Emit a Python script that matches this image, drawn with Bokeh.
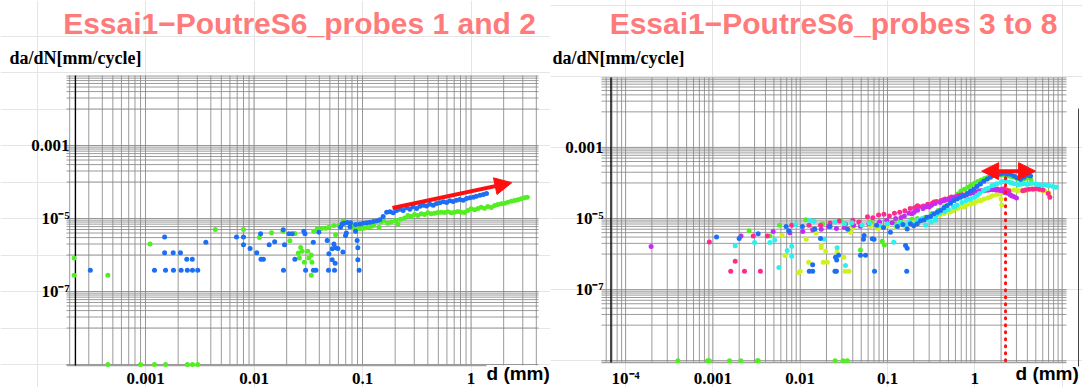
from bokeh.plotting import figure
from bokeh.models import Range1d, Label, Arrow, NormalHead
from bokeh.core.properties import value
from bokeh.layouts import row
from bokeh.embed import file_html
from bokeh.resources import INLINE

# ======================= DATA =======================
left_title = "Essai1\u2212PoutreS6_probes 1 and 2"
right_title = "Essai1\u2212PoutreS6_probes 3 to 8"
y_label = "da/dN[mm/cycle]"
x_label = "d (mm)"

left_xticks = [1e-3, 1e-2, 1e-1, 1.0]
left_xtick_labels = ["0.001", "0.01", "0.1", "1"]
right_xticks = [1e-4, 1e-3, 1e-2, 1e-1, 1.0]
right_xtick_labels = ["10\u207b\u2074", "0.001", "0.01", "0.1", "1"]
yticks = [1e-7, 1e-5, 1e-3]
ytick_labels = ["10\u207b\u2077", "10\u207b\u2075", "0.001"]

# ---- Left panel: probes 1 and 2 ----
# green probe - scattered readings
lg_sc_x = [2.2e-4, 2.2e-4, 4.5e-4, 1.1e-3, 4.4e-3, 8.0e-3, 0.0112, 0.0145, 0.0185, 0.0214,
           0.0238, 0.0256, 0.0262, 0.0269, 0.0278, 0.0291, 0.0313, 0.032, 0.0337, 0.0342,
           0.0337, 0.0565]
lg_sc_y = [8.3e-7, 2.8e-7, 2.8e-7, 2.0e-6, 5.0e-6, 5.0e-6, 3.0e-6, 4.1e-6, 4.5e-6, 2.45e-6,
           3.9e-6, 1.13e-6, 8.3e-7, 1.6e-6, 1.27e-6, 6.3e-7, 1.27e-6, 8.3e-7, 1.0e-6, 6.3e-7,
           2.8e-7, 3.6e-6]
# green probe - main growth band
lg_x = [0.0356, 0.0383, 0.0417, 0.0457, 0.049, 0.0545, 0.0605, 0.0664, 0.0776, 0.0833,
        0.0893, 0.096, 0.103, 0.110, 0.119, 0.127, 0.142, 0.147, 0.157, 0.171,
        0.184, 0.202, 0.212, 0.224, 0.244, 0.262, 0.281, 0.302, 0.324, 0.348,
        0.373, 0.40, 0.43, 0.461, 0.495, 0.531, 0.570, 0.612, 0.657, 0.705,
        0.757, 0.812, 0.871, 0.935, 1.0, 1.08, 1.16, 1.24, 1.33, 1.43,
        1.54, 1.65, 1.77, 1.90, 2.04, 2.19, 2.35, 2.52, 2.70, 2.90, 3.11, 3.30]
lg_y = [4.5e-6, 5.2e-6, 5.2e-6, 5.4e-6, 5.8e-6, 6.4e-6, 6.4e-6, 8.5e-6, 6.4e-6, 5.5e-6,
        5.2e-6, 5.3e-6, 5.4e-6, 5.8e-6, 6.0e-6, 6.4e-6, 5.8e-6, 8.0e-6, 8.5e-6, 7.4e-6,
        8.0e-6, 8.8e-6, 7.1e-6, 9.6e-6, 1.04e-5, 1.2e-5, 1.14e-5, 1.29e-5, 1.2e-5, 1.35e-5,
        1.29e-5, 1.43e-5, 1.35e-5, 1.4e-5, 1.46e-5, 1.49e-5, 1.46e-5, 1.52e-5, 1.43e-5, 1.49e-5,
        1.56e-5, 1.49e-5, 1.46e-5, 1.66e-5, 1.84e-5, 1.73e-5, 1.88e-5, 2.04e-5, 1.92e-5, 2.13e-5,
        2.0e-5, 2.27e-5, 2.42e-5, 2.52e-5, 2.63e-5, 2.8e-5, 2.99e-5, 3.11e-5, 3.24e-5, 3.46e-5,
        3.68e-5, 3.84e-5]
# green probe - zero-rate readings, drawn on the bottom axis
lg_zero_x = [4.5e-4, 9.0e-4, 1.21e-3, 1.53e-3, 2.43e-3, 2.71e-3, 3.03e-3]
zero_level = 1.0e-9

# blue probe - scattered readings
lb_sc_x = [3.1e-4, 1.21e-3, 1.53e-3, 1.81e-3, 2.13e-3, 2.43e-3, 2.71e-3, 3.03e-3, 0.0187, 0.0299,
           0.0353, 0.0372, 0.0486, 0.0552, 0.093,
           1.5e-3, 1.5e-3, 1.8e-3, 2.1e-3, 2.4e-3, 2.7e-3, 3.6e-3, 6.9e-3, 8.0e-3, 8.0e-3,
           9.2e-3, 0.0106, 0.0115, 0.0116, 0.0122, 0.0138, 0.0155, 0.0186, 0.0191, 0.021,
           0.0225, 0.0238, 0.0288, 0.0295, 0.0352, 0.0396, 0.0473, 0.0526, 0.0545, 0.0565,
           0.049, 0.0526, 0.0698, 0.0628, 0.065, 0.0863, 0.0893, 0.0906, 0.0906, 0.0593,
           0.071, 0.0766, 0.066, 0.056]
lb_sc_y = [3.8e-7, 3.8e-7, 3.8e-7, 3.8e-7, 3.8e-7, 3.8e-7, 3.8e-7, 3.8e-7, 3.8e-7, 3.8e-7,
           3.8e-7, 3.8e-7, 3.8e-7, 3.8e-7, 3.8e-7,
           3.1e-6, 1.15e-6, 1.15e-6, 1.15e-6, 7.6e-7, 7.6e-7, 2.25e-6, 3.1e-6, 3.1e-6, 1.9e-6,
           1.5e-6, 1.15e-6, 3.8e-6, 7.6e-7, 7.6e-7, 1.9e-6, 2.3e-6, 4.9e-6, 1.9e-6, 3.8e-6,
           3.8e-6, 7.6e-7, 4.5e-6, 3.8e-6, 2.24e-6, 4.2e-6, 2.5e-6, 1.48e-6, 2.0e-6, 1.58e-6,
           1.08e-6, 7.4e-7, 3.4e-6, 5.8e-6, 7.1e-6, 4.5e-6, 2.5e-6, 1.58e-6, 7.4e-7, 1.5e-6,
           4.0e-6, 5.9e-6, 1.2e-6, 5.9e-7]
# blue probe - main growth band
lb_x = [0.0673, 0.0722, 0.0776, 0.0863, 0.0946, 0.1016, 0.109, 0.117, 0.126, 0.135,
        0.1445, 0.155, 0.167, 0.179, 0.192, 0.206, 0.221, 0.237, 0.255, 0.273,
        0.293, 0.315, 0.338, 0.363, 0.389, 0.418, 0.449, 0.481, 0.516, 0.555,
        0.596, 0.638, 0.685, 0.736, 0.789, 0.847, 0.91, 0.977, 1.05, 1.12, 1.21, 1.30, 1.39]
lb_y = [7.4e-6, 7.8e-6, 7.6e-6, 6.9e-6, 7.1e-6, 7.4e-6, 7.6e-6, 7.9e-6, 8.3e-6, 8.6e-6,
        9.2e-6, 1.13e-5, 1.49e-5, 1.52e-5, 1.43e-5, 1.66e-5, 1.8e-5, 1.66e-5, 1.96e-5, 1.8e-5,
        2.09e-5, 1.88e-5, 2.18e-5, 2.32e-5, 2.2e-5, 2.47e-5, 2.32e-5, 2.58e-5, 2.69e-5, 2.86e-5,
        2.75e-5, 3.05e-5, 2.9e-5, 3.18e-5, 3.31e-5, 3.18e-5, 3.53e-5, 3.68e-5, 3.84e-5, 4.09e-5,
        4.35e-5, 4.54e-5, 4.84e-5]
left_arrow = [0.189, 1.94e-5, 2.38, 9.6e-5]   # x0, y0, x1, y1

# ---- Right panel: probes 3 to 8 ----
rb_x = [1.1e-3, 2.0e-3, 3.3e-3, 6.9e-3, 7.4e-3, 0.0106, 0.0147, 0.0171, 0.0139, 0.0127,
        0.0139, 0.025, 0.026, 0.071, 0.166, 0.0254, 0.0262, 0.0275, 0.049, 0.056,
        0.053, 0.070, 0.168, 0.022, 0.035, 0.054, 0.067, 0.075, 0.09, 0.108,
        0.13, 0.15, 0.161, 0.168, 0.183,
        0.200, 0.219, 0.239, 0.261, 0.284, 0.310, 0.340, 0.371, 0.405, 0.442,
        0.482, 0.527, 0.575, 0.628, 0.686, 0.748, 0.817, 0.892, 0.975, 1.06,
        1.16, 1.27, 1.39, 1.51, 1.65, 1.80, 1.97, 2.15, 2.35, 2.56,
        2.80, 3.05, 3.33, 3.65, 3.98, 4.35]
rb_y = [3.0e-6, 2.75e-6, 3.7e-6, 6.0e-6, 4.5e-6, 6.0e-6, 5.1e-6, 2.75e-6, 5.0e-7, 3.3e-7,
        3.3e-7, 3.3e-7, 3.3e-7, 3.3e-7, 3.3e-7, 8.1e-7, 6.8e-7, 9.3e-7, 9.3e-7, 9.3e-7,
        2.6e-6, 2.6e-6, 1.45e-6, 6.0e-6, 5.0e-6, 3.3e-6, 2.7e-6, 6.5e-6, 5.6e-6, 4.1e-6,
        6.0e-6, 6.8e-6, 1.74e-6, 5.1e-6, 7.1e-6,
        6.3e-6, 7.1e-6, 8.7e-6, 9.1e-6, 1.09e-5, 1.14e-5, 1.35e-5, 1.5e-5, 1.67e-5, 2.0e-5,
        2.31e-5, 2.69e-5, 3.2e-5, 3.56e-5, 3.98e-5, 4.4e-5, 4.9e-5, 5.8e-5, 6.8e-5, 7.9e-5,
        9.4e-5, 1.12e-4, 1.3e-4, 1.45e-4, 1.61e-4, 1.72e-4, 1.8e-4, 1.88e-4, 1.8e-4, 1.76e-4,
        1.58e-4, 1.39e-4, 1.27e-4, 1.45e-4, 1.65e-4, 1.58e-4]

rg_x = [2.6e-3, 4.5e-3, 5.8e-3, 0.0116, 0.018, 0.029, 0.04, 0.049, 0.064, 0.087,
        0.092, 0.1, 0.12, 0.141, 0.19, 0.22,
        0.27, 0.32, 0.38, 0.45, 0.52, 0.58, 0.64, 0.69, 0.76, 0.83,
        0.90, 0.99, 1.08, 1.18, 1.29, 1.41, 1.53, 1.68, 1.83, 2.0,
        2.18, 2.38, 2.6, 2.85, 3.1, 3.4, 3.7, 4.0, 4.4]
rg_y = [4.5e-6, 3.2e-6, 6.5e-6, 9.2e-6, 7.0e-6, 8.7e-6, 6.5e-6, 1.31e-6, 7.9e-6, 2.3e-6,
        1.8e-6, 7.5e-6, 8.0e-6, 8.7e-6, 9.5e-6, 1.0e-5,
        1.09e-5, 1.35e-5, 1.67e-5, 2.17e-5, 3.06e-5, 3.8e-5, 4.9e-5, 5.8e-5, 6.7e-5, 7.6e-5,
        8.6e-5, 9.8e-5, 1.09e-4, 1.22e-4, 1.33e-4, 1.45e-4, 1.55e-4, 1.61e-4, 1.65e-4, 1.69e-4,
        1.65e-4, 1.58e-4, 1.51e-4, 1.45e-4, 1.3e-4, 1.22e-4, 1.3e-4, 1.39e-4, 1.22e-4]
rg_zero_x = [3.98e-4, 8.7e-4, 9.1e-4, 1.55e-3, 2.09e-3, 3.24e-3, 3.31e-3, 0.0251, 0.0309, 0.0347]

rp_x = [9.1e-4, 1.8e-3, 2.9e-3, 4.2e-3, 8.0e-3, 0.0126, 0.0171, 0.022, 0.028, 0.033,
        0.04, 0.047, 1.6e-3, 2.3e-3, 3.5e-3,
        0.22, 0.27, 0.34, 0.43, 0.54, 0.68, 0.86, 1.08, 1.37, 1.72, 2.16, 2.45, 3.8, 4.6, 5.5,
        0.059, 0.068, 0.079, 0.091, 0.105, 0.12, 0.138, 0.158, 0.182, 0.204,
        0.229, 0.257, 0.288, 0.324, 0.363, 0.407, 0.457, 0.513, 0.575, 0.646,
        0.724, 0.813, 0.912, 1.02, 1.15, 1.29, 1.45, 1.62, 1.82, 2.04,
        2.29, 3.55, 4.17, 5.01, 6.03, 6.92, 7.24]
rp_y = [2.2e-6, 6.3e-7, 3.2e-6, 3.2e-6, 6.5e-6, 6.5e-6, 6.5e-6, 7.5e-6, 8.5e-6, 7.0e-6,
        9.0e-6, 8.0e-6, 3.3e-7, 3.3e-7, 3.3e-7,
        2.3e-5, 2.1e-5, 2.9e-5, 3.3e-5, 4.0e-5, 4.5e-5, 5.3e-5, 5.6e-5, 6.4e-5, 6.4e-5, 6.9e-5,
        6.0e-5, 6.3e-5, 6.8e-5, 6.6e-5,
        1.12e-5, 1.05e-5, 1.26e-5, 1.32e-5, 1.17e-5, 1.41e-5, 1.51e-5, 1.66e-5, 1.91e-5, 2.0e-5,
        2.19e-5, 2.24e-5, 2.51e-5, 2.63e-5, 3.02e-5, 3.16e-5, 3.55e-5, 3.8e-5, 3.98e-5, 4.37e-5,
        4.68e-5, 5.01e-5, 5.37e-5, 5.62e-5, 5.89e-5, 6.17e-5, 6.31e-5, 6.61e-5, 6.76e-5, 6.61e-5,
        6.31e-5, 6.03e-5, 6.61e-5, 6.92e-5, 6.31e-5, 5.01e-5, 3.98e-5]

rv_x = [1.96e-4, 2.1e-3, 4.9e-3, 7.6e-3, 0.0107, 0.0139, 0.0174, 0.021, 0.026,
        0.19, 0.3, 0.47, 0.6, 0.75, 0.95, 1.19, 1.5, 1.9, 2.37, 2.65,
        0.032, 0.041, 0.049, 0.061, 0.081, 0.098, 0.113, 0.124, 0.143, 0.156,
        0.176, 0.202, 0.221, 0.255, 0.279, 0.32, 0.351, 0.403, 0.44, 0.508,
        0.555, 0.64, 0.70, 0.805, 0.88, 1.01, 1.11, 1.28, 1.39, 1.6,
        1.76, 2.02, 2.21, 2.54, 2.78, 3.0]
rv_y = [1.63e-6, 3.2e-6, 4.3e-6, 4.0e-6, 4.3e-6, 4.8e-6, 5.0e-6, 6.0e-6, 5.2e-6,
        1.35e-5, 2.1e-5, 3.3e-5, 4.1e-5, 4.3e-5, 5.3e-5, 6.0e-5, 6.6e-5, 6.2e-5, 5.1e-5, 4.4e-5,
        5.62e-6, 6.31e-6, 6.03e-6, 7.08e-6, 7.94e-6, 8.91e-6, 7.59e-6, 1.0e-5, 1.07e-5, 1.17e-5,
        1.41e-5, 1.51e-5, 1.7e-5, 1.91e-5, 2.19e-5, 2.34e-5, 2.63e-5, 2.82e-5, 3.16e-5, 3.47e-5,
        3.72e-5, 3.98e-5, 4.37e-5, 4.68e-5, 5.01e-5, 5.37e-5, 5.75e-5, 6.03e-5, 6.31e-5, 6.46e-5,
        6.31e-5, 6.03e-5, 5.37e-5, 4.68e-5, 4.17e-5, 3.8e-5]

rc_x = [1.8e-3, 3.0e-3, 4.5e-3, 5.1e-3, 5.7e-3, 7.1e-3, 8.0e-3, 8.0e-3, 8.9e-3, 0.0129,
        0.0144, 0.0189, 0.0265, 0.118, 0.033, 0.219, 0.275, 0.316, 0.355,
        0.6, 0.84, 1.06, 1.33, 1.68, 2.12, 2.66, 3.35, 4.2, 5.3, 6.7,
        0.025, 0.0322, 0.039, 0.051, 0.062, 0.081, 0.099, 0.127, 0.14, 0.16,
        0.177, 0.203, 0.226, 0.249, 0.285, 0.313, 0.358, 0.395, 0.451, 0.497,
        0.566, 0.627, 0.713, 0.79, 0.897, 0.995, 1.13, 1.25, 1.42, 1.57,
        1.79, 1.99, 2.26, 2.49, 2.84, 3.14, 3.58, 3.95, 4.5, 4.98,
        5.66, 6.27, 7.13, 7.9, 8.55]
rc_y = [1.7e-6, 2.1e-6, 2.1e-6, 2.5e-6, 4.2e-7, 1.26e-6, 1.67e-6, 8.7e-7, 6.8e-6, 8.8e-6,
        8.4e-6, 2.6e-6, 1.5e-6, 2.15e-6, 4.8e-7, 7.24e-6, 6.46e-6, 7.94e-6, 8.91e-6,
        2.2e-5, 3.4e-5, 4.5e-5, 6.6e-5, 8.9e-5, 1.1e-4, 1.0e-4, 9.2e-5, 9.5e-5, 9.0e-5, 8.6e-5,
        7.94e-6, 7.08e-6, 7.59e-6, 6.61e-6, 7.41e-6, 6.31e-6, 7.08e-6, 6.31e-6, 7.59e-6, 6.61e-6,
        7.94e-6, 7.08e-6, 8.91e-6, 1.0e-5, 9.55e-6, 1.12e-5, 1.2e-5, 1.41e-5, 1.58e-5, 1.78e-5,
        2.09e-5, 2.4e-5, 2.82e-5, 3.16e-5, 3.55e-5, 3.98e-5, 5.01e-5, 6.03e-5, 7.08e-5, 8.32e-5,
        9.55e-5, 1.05e-4, 1.12e-4, 1.05e-4, 9.55e-5, 8.91e-5, 9.55e-5, 9.12e-5, 9.77e-5, 9.33e-5,
        8.71e-5, 8.91e-5, 8.32e-5, 7.94e-5, 7.59e-5]

ry_x = [6.2e-3, 6.7e-3, 9.6e-3, 0.0117, 0.0125, 0.0152, 0.0174, 0.0174, 0.0184, 0.0204,
        0.0196, 0.01, 0.0327, 0.0362, 0.0265, 0.0316, 0.0377, 2.0, 2.04,
        0.53, 0.75, 0.95, 1.19, 1.5, 1.9, 2.37, 3.0, 3.75, 4.7, 6.0,
        0.031, 0.04, 0.05, 0.064, 0.078, 0.101, 0.125, 0.157, 0.179, 0.198,
        0.226, 0.25, 0.284, 0.314, 0.357, 0.4, 0.445, 0.505, 0.56, 0.635,
        0.705, 0.8, 0.885, 1.01, 1.11, 1.27, 1.4, 1.6, 1.77, 2.02,
        2.23, 2.53, 2.8, 3.18, 3.52, 4.02, 4.43, 5.05, 5.58, 6.35, 7.05]
ry_y = [3.3e-6, 9.1e-7, 3.0e-7, 2.6e-6, 5.9e-7, 4.0e-6, 1.78e-6, 1.5e-6, 5.9e-7, 5.9e-7,
        1.2e-6, 3.3e-7, 3.3e-7, 3.3e-7, 1.12e-6, 8.1e-7, 4.1e-6, 3.55e-5, 2.4e-5,
        1.55e-5, 2.1e-5, 2.7e-5, 3.2e-5, 4.0e-5, 4.9e-5, 5.5e-5, 6.2e-5, 6.0e-5, 6.4e-5, 6.1e-5,
        6.31e-6, 5.62e-6, 6.61e-6, 6.03e-6, 5.25e-6, 6.31e-6, 5.62e-6, 6.03e-6, 7.08e-6, 7.59e-6,
        8.32e-6, 8.91e-6, 1.0e-5, 1.12e-5, 1.2e-5, 1.26e-5, 1.38e-5, 1.51e-5, 1.66e-5, 1.91e-5,
        2.19e-5, 2.4e-5, 2.51e-5, 2.82e-5, 3.16e-5, 3.55e-5, 3.8e-5, 4.37e-5, 4.68e-5, 5.25e-5,
        5.75e-5, 6.03e-5, 6.31e-5, 6.03e-5, 6.31e-5, 6.61e-5, 6.76e-5, 6.61e-5, 6.31e-5, 6.03e-5,
        5.25e-5]

right_range_arrow = [1.2, 4.97, 2.15e-4]    # x0, x1, y
marker_line_x = 2.25                        # dotted red line position
marker_line_top = 1.5e-4

# ======================= STYLE / LAYOUT =======================
H = 387
C_BLUE = "#1c6ef4"
C_GREEN = "#52ee22"
C_PINK = "#ff2a8c"
C_PURPLE = "#c42cf2"
C_CYAN = "#2cf0ee"
C_YELLOW = "#cdf21c"
TITLE_COLOR = "#ff7b7b"
GRID_COLOR = "#8a8a8a"
ARROW_RED = "#ff1010"

XGRID = [n * 10.0 ** k for k in range(-5, 2) for n in range(1, 10)]
YGRID = [10.0 ** k for k in range(-10, 0)] + [n * 10.0 ** k for k in (-8, -6, -4, -2) for n in range(2, 10)]


class Panel:
    """A canvas whose whole area is the frame; px -> data conversion for layout items."""

    def __init__(self, width, ax, dx, ay, dy, box):
        self.ax, self.dx, self.ay, self.dy = ax, dx, ay, dy
        self.box = box  # (left, right, top, bottom) of the gridded area, canvas px
        p = figure(width=width, height=H, x_axis_type="log", y_axis_type="log",
                   x_axis_location=None, y_axis_location=None,
                   x_range=Range1d(self.X(0), self.X(width)), y_range=Range1d(self.Y(H), self.Y(0)),
                   output_backend="svg", toolbar_location=None, min_border=0)
        p.outline_line_color = None
        p.background_fill_color = "white"
        p.border_fill_color = "white"
        self.p = p

    def X(self, px):
        return 10 ** (self.ax + px / self.dx)

    def Y(self, py):
        return 10 ** (self.ay - py / self.dy)

    def grid(self):
        l, r, t, b = self.box
        x0, x1, y0, y1 = self.X(l), self.X(r), self.Y(b), self.Y(t)
        xs = [v for v in XGRID if x0 <= v <= x1]
        ys = [v for v in YGRID if y0 <= v <= y1]
        self.p.segment(x0=xs, y0=[y0] * len(xs), x1=xs, y1=[y1] * len(xs),
                       line_color=GRID_COLOR, line_width=1, line_alpha=0.85)
        self.p.segment(x0=[x0] * len(ys), y0=ys, x1=[x1] * len(ys), y1=ys,
                       line_color=GRID_COLOR, line_width=1, line_alpha=0.85)

    def axes(self, yaxis_x, xaxis_end_px, xticks, xlabels, ylab_px, xlab_py):
        l, r, t, b = self.box
        p = self.p
        p.segment(x0=[self.X(l)], y0=[self.Y(b)], x1=[self.X(xaxis_end_px)], y1=[self.Y(b)],
                  line_color="#a0a0a0", line_width=1.3)
        p.segment(x0=[yaxis_x], y0=[self.Y(b)], x1=[yaxis_x], y1=[self.Y(t)],
                  line_color="black", line_width=1.4)
        p.text(x=xticks, y=[self.Y(xlab_py)] * len(xticks), text=xlabels,
               text_font=value("Liberation Serif"), text_font_style="bold",
               text_font_size="17px", text_color="black",
               text_align="center", text_baseline="middle")
        p.text(x=[self.X(ylab_px)] * len(yticks), y=yticks, text=ytick_labels,
               text_font=value("Liberation Serif"), text_font_style="bold",
               text_font_size="17px", text_color="black",
               text_align="right", text_baseline="middle")

    def label(self, text, px, py, size, font, color, align="left"):
        self.p.add_layout(Label(x=self.X(px), y=self.Y(py), text=text, text_font=font,
                                text_font_style="bold", text_font_size=size, text_color=color,
                                text_align=align, text_baseline="middle"))

    def dots(self, xs, ys, color):
        self.p.scatter(xs, ys, size=5, fill_color=color, line_color=None)


# ---------------- left panel ----------------
LW = 550
L = Panel(LW, -3 - 145 / 108.5, 108.5, -5 + 218 / 36.5, 36.5, (66, 538, 75, 365))
L.grid()
L.axes(2.26e-4, 486, left_xticks, left_xtick_labels, 69, 378)
L.dots(lg_zero_x, [zero_level] * len(lg_zero_x), C_GREEN)
L.dots(lg_sc_x + lg_x, lg_sc_y + lg_y, C_GREEN)
L.dots(lb_sc_x + lb_x, lb_sc_y + lb_y, C_BLUE)
L.p.add_layout(Arrow(end=NormalHead(size=17, fill_color=ARROW_RED, line_color=ARROW_RED),
                     x_start=left_arrow[0], y_start=left_arrow[1],
                     x_end=left_arrow[2], y_end=left_arrow[3],
                     line_color=ARROW_RED, line_width=4))
L.label(left_title, 299, 23, "30px", "Liberation Sans", TITLE_COLOR, "center")
L.label(y_label, 9, 57, "18px", "Liberation Serif", "black")
L.label(x_label, 486, 373, "19px", "Liberation Sans", "black")

# ---------------- right panel (canvas starts at x = LW) ----------------
RW = 1082 - LW
R = Panel(RW, -(974.3 - LW) / 87.3, 87.3, -5 + 218 / 35.55, 35.55,
          (601 - LW, 1066 - LW, 77, 362))
R.grid()
R.axes(6.8e-5, 1066 - LW, right_xticks, right_xtick_labels, 603 - LW, 378)
R.dots(rg_zero_x, [zero_level] * len(rg_zero_x), C_GREEN)
R.dots(rg_x, rg_y, C_GREEN)
R.dots(ry_x, ry_y, C_YELLOW)
R.dots(rp_x, rp_y, C_PINK)
R.dots(rv_x, rv_y, C_PURPLE)
R.dots(rc_x, rc_y, C_CYAN)
R.dots(rb_x, rb_y, C_BLUE)
R.p.line([marker_line_x, marker_line_x], [zero_level, marker_line_top], line_color=ARROW_RED,
         line_width=3, line_dash="1 6", line_cap="round")
R.p.add_layout(Arrow(start=NormalHead(size=17, fill_color=ARROW_RED, line_color=ARROW_RED),
                     end=NormalHead(size=17, fill_color=ARROW_RED, line_color=ARROW_RED),
                     x_start=right_range_arrow[0], y_start=right_range_arrow[2],
                     x_end=right_range_arrow[1], y_end=right_range_arrow[2],
                     line_color=ARROW_RED, line_width=4))
# thin dark edge line at the far right of the picture
R.p.segment(x0=[R.X(1078 - LW)], y0=[R.Y(366)], x1=[R.X(1078 - LW)], y1=[R.Y(108)],
            line_color="#444444", line_width=1)
R.label(right_title, 833 - LW, 23, "30px", "Liberation Sans", TITLE_COLOR, "center")
R.label(y_label, 552 - LW, 57, "18px", "Liberation Serif", "black")
R.label(x_label, 1015 - LW, 373, "19px", "Liberation Sans", "black")

layout = row(L.p, R.p)
open("out.html", "w").write(file_html(layout, INLINE))
